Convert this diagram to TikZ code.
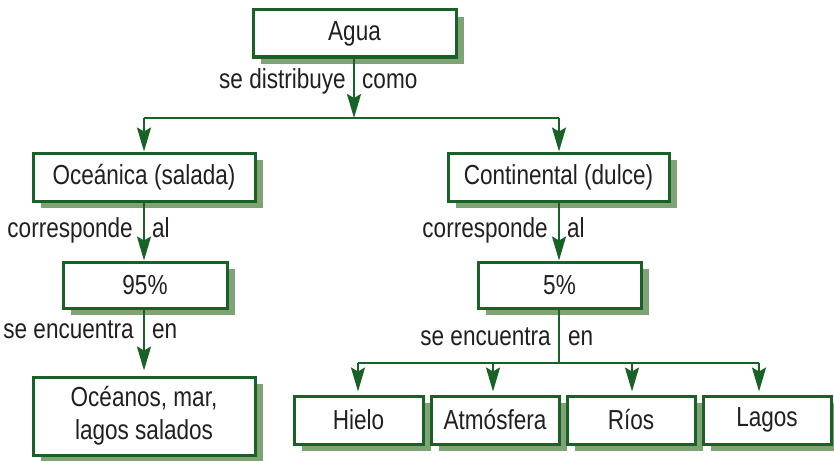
\documentclass[tikz,border=0pt]{standalone}
\usepackage{fontspec}
\setmainfont[FakeStretch=0.82]{Liberation Sans}
\usetikzlibrary{arrows.meta,shadows,calc}
\definecolor{lgreen}{RGB}{24,98,40}
\definecolor{sgreen}{RGB}{128,163,118}
\definecolor{txt}{RGB}{35,31,32}
\begin{document}
\begin{tikzpicture}[x=1pt,y=-1pt,
  box/.style={draw=lgreen, line width=3pt, fill=white, text=txt, inner sep=2pt,
    font=\fontsize{27.5}{33}\selectfont,
    drop shadow={shadow xshift=8pt, shadow yshift=-7pt, fill=sgreen, opacity=1}},
  lbl/.style={text=txt, font=\fontsize{27.5}{33}\selectfont, inner sep=0pt},
  wire/.style={draw=lgreen, line width=2.3pt},
  conn/.style={wire, -{Stealth[length=24pt,width=14pt,inset=4pt]}}]
\useasboundingbox (0,0) rectangle (834,460);

% nodes
\node[box, minimum width=203pt, minimum height=47pt] (agua) at (354.5,33.5) {Agua};
\node[box, minimum width=222pt, minimum height=48pt] (ocea) at (144,177) {Oceánica (salada)};
\node[box, minimum width=221pt, minimum height=48pt] (cont) at (558.5,177) {Continental (dulce)};
\node[box, minimum width=164pt, minimum height=46pt] (p95) at (145,285) {95\%};
\node[box, minimum width=163pt, minimum height=46pt] (p5) at (559.5,285) {5\%};
\node[box, minimum width=222pt, minimum height=78pt, align=center] (oceanos) at (144,416) {Océanos, mar,\\lagos salados};
\node[box, minimum width=129pt, minimum height=48pt] (hielo) at (358.5,420) {Hielo};
\node[box, minimum width=128pt, minimum height=48pt] (atm) at (495,420) {Atmósfera};
\node[box, minimum width=128pt, minimum height=48pt] (rios) at (631,420) {Ríos};
\node[box, minimum width=128pt, minimum height=48pt] (lagos) at (767,420) {Lagos};

% junctions
\coordinate (jt) at (354,118);
\coordinate (jl) at (144,118);
\coordinate (jr) at (559,118);
\coordinate (jb) at (559,363);
\coordinate (jb1) at (358,363);
\coordinate (jb2) at (493,363);
\coordinate (jb3) at (632,363);
\coordinate (jb4) at (759,363);

% connectors
\draw[conn] (agua.south -| jt) -- (jt);
\draw[wire] (jl) -- (jr);
\draw[conn] (jl) -- (ocea.north -| jl);
\draw[conn] (jr) -- (cont.north -| jr);
\draw[conn] (ocea.south -| jl) -- (p95.north -| jl);
\draw[conn, shorten >=5pt] (p95.south -| jl) -- (oceanos.north -| jl);
\draw[conn] (cont.south -| jr) -- (p5.north -| jr);
\draw[wire] (p5.south -| jb) -- (jb);
\draw[wire] (jb1) -- (jb4);
\draw[conn, shorten >=3pt] (jb1) -- (hielo.north -| jb1);
\draw[conn, shorten >=3pt] (jb2) -- (atm.north -| jb2);
\draw[conn, shorten >=3pt] (jb3) -- (rios.north -| jb3);
\draw[conn, shorten >=3pt] (jb4) -- (lagos.north -| jb4);

% labels
\node[lbl, anchor=base east] (l1a) at (346,88) {se distribuye};
\node[lbl, anchor=base west] (l1b) at (362,88) {como};
\node[lbl, anchor=base east] (l2a) at (133,237) {corresponde};
\node[lbl, anchor=base west] (l2b) at (152,237) {al};
\node[lbl, anchor=base east] (l3a) at (548,237) {corresponde};
\node[lbl, anchor=base west] (l3b) at (567,237) {al};
\node[lbl, anchor=base east] (l4a) at (134,338) {se encuentra};
\node[lbl, anchor=base west] (l4b) at (152,338) {en};
\node[lbl, anchor=base east] (l5a) at (551,345) {se encuentra};
\node[lbl, anchor=base west] (l5b) at (568,345) {en};
\end{tikzpicture}
\end{document}
